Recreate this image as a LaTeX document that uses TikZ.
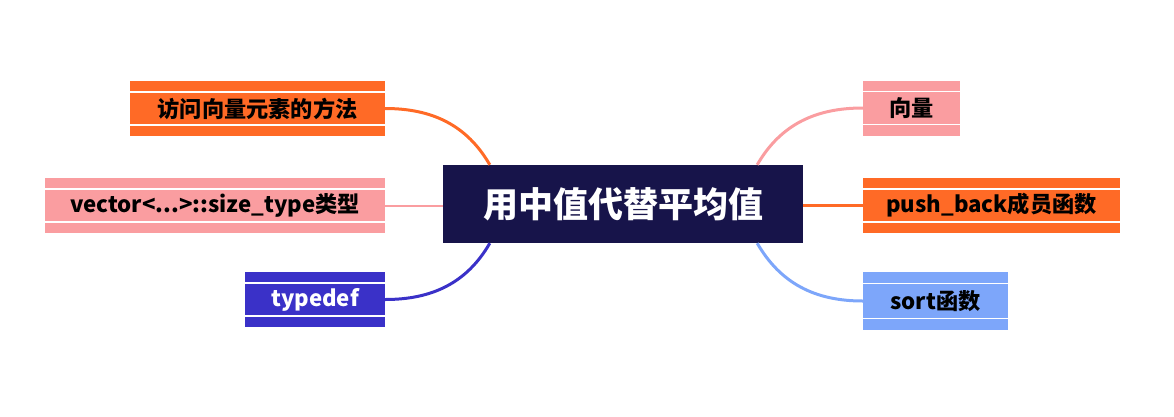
\documentclass[tikz,border=0pt]{standalone}
\usepackage{fontspec}
\setmainfont{Noto Sans CJK SC}
\definecolor{navy}{HTML}{17144A}
\definecolor{orng}{HTML}{FF6A26}
\definecolor{pnk}{HTML}{FA9DA0}
\definecolor{dblue}{HTML}{3A31C8}
\definecolor{lblue}{HTML}{7DA6FA}
\tikzset{
  leaf/.style={fill=#1, inner sep=0pt, minimum height=55pt, font=\fontsize{22.2}{26}\selectfont\bfseries,
    path picture={\foreach \f in {.2,.8}
      \draw[white, line width=1.4pt]($(path picture bounding box.south west)!\f!(path picture bounding box.north west)$)--($(path picture bounding box.south east)!\f!(path picture bounding box.north east)$);}},
  link/.style={line width=3pt, #1}
}
\usetikzlibrary{calc}
\begin{document}
\begin{tikzpicture}[x=1pt, y=-1pt]
\useasboundingbox (0,0) rectangle (1174,416);

\node[fill=navy, text=white, minimum width=360pt, minimum height=78pt, font=\fontsize{35}{40}\selectfont\bfseries] (main) at (623,204) {用中值代替平均值};

\node[leaf=orng, minimum width=255pt] (acc) at (257.5,108.5) {访问向量元素的方法};
\node[leaf=pnk, minimum width=340pt] (size) at (215,205.5) {vector<...>::size\_type类型};
\node[leaf=dblue, minimum width=140pt, text=white] (tdef) at (315,299.5) {typedef};
\node[leaf=pnk, minimum width=97pt] (vec) at (911.5,108) {向量};
\node[leaf=orng, minimum width=257pt] (push) at (991.5,205.5) {push\_back成员函数};
\node[leaf=lblue, minimum width=145pt, minimum height=58pt] (sort) at (935.5,301) {sort函数};

\draw[link=orng](acc.east) to[out=0, in=120] ([xshift=47pt]main.north west);
\draw[link=pnk, line width=2pt](size.east) -- (main.west |- size.east);
\draw[link=dblue](tdef.east) to[out=0, in=240] ([xshift=47pt]main.south west);
\draw[link=pnk](vec.west) to[out=180, in=60] ([xshift=-46pt]main.north east);
\draw[link=orng](push.west) -- (main.east |- push.west);
\draw[link=lblue](sort.west) to[out=180, in=300] ([xshift=-46pt]main.south east);
\end{tikzpicture}
\end{document}
